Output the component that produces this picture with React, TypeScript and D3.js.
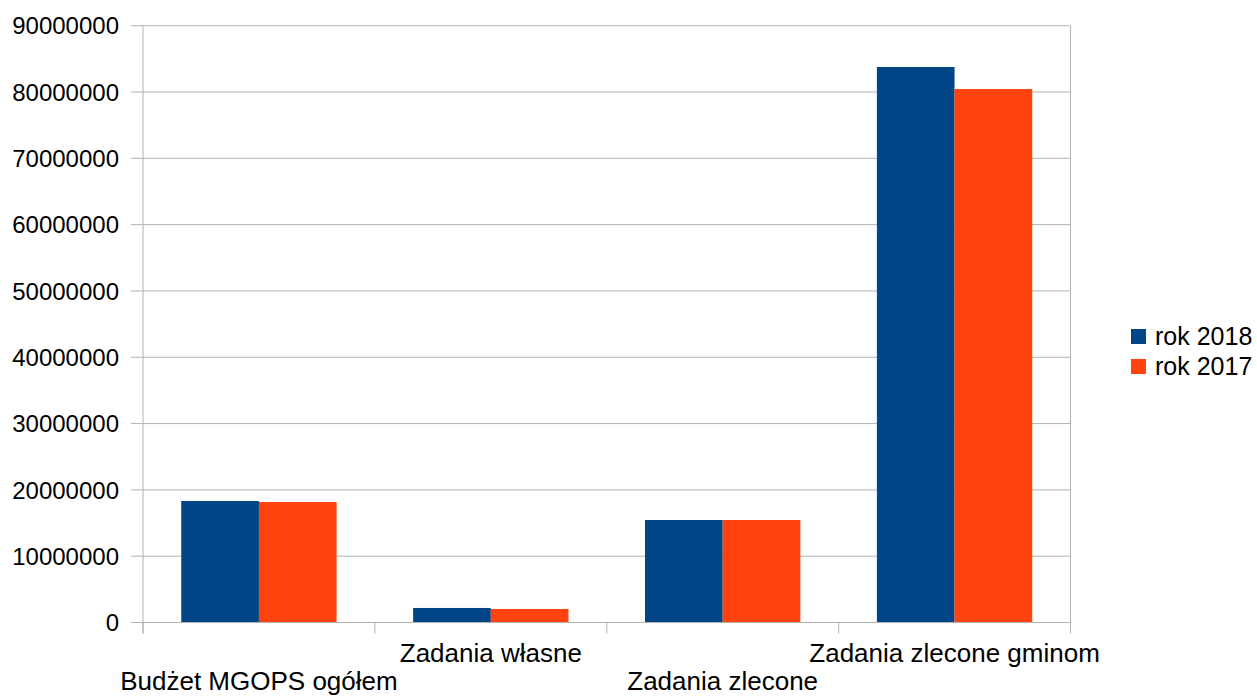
import React from "react";
import * as d3 from "d3";

const categories = ["Budżet MGOPS ogółem", "Zadania własne", "Zadania zlecone", "Zadania zlecone gminom"];
const seriesNames = ["rok 2018", "rok 2017"];
const values2018 = [18320000, 2190000, 15460000, 83770000];
const values2017 = [18170000, 2040000, 15460000, 80450000];
const yTicks = [0, 10000000, 20000000, 30000000, 40000000, 50000000, 60000000, 70000000, 80000000, 90000000];
const colors = ["#004586", "#ff420e"];

const W = 1257;
const H = 696;
const left = 143;
const right = 1070.5;
const top = 25.7;
const bottom = 622.5;

export default function App() {
  const x = d3.scaleBand<string>().domain(categories).range([left, right]).paddingInner(0.33).paddingOuter(0.165);
  const x0 = d3.scaleBand<string>().domain(categories).range([left, right]);
  const xs = d3.scaleBand<string>().domain(seriesNames).range([0, x.bandwidth()]);
  const y = d3.scaleLinear().domain([0, 90000000]).range([bottom, top]);
  const series = [values2018, values2017];
  const font = "'Liberation Sans', Arial, sans-serif";
  return (
    <svg width={W} height={H} style={{ position: "absolute", left: 0, top: 0, background: "#fff" }} fontFamily={font}>
      {yTicks.map((t) => (
        <g key={t}>
          <line x1={left - 12} x2={right} y1={y(t)} y2={y(t)} stroke="#b3b3b3" strokeWidth={1} />
          <text x={119} y={y(t)} dy="0.36em" textAnchor="end" fontSize={24} fill="#000">{t}</text>
        </g>
      ))}
      <line x1={left} x2={left} y1={top} y2={bottom + 11} stroke="#b3b3b3" />
      <line x1={right} x2={right} y1={top} y2={bottom + 11} stroke="#b3b3b3" />
      {categories.map((c) => (
        <line key={"t" + c} x1={x0(c) as number} x2={x0(c) as number} y1={bottom} y2={bottom + 11} stroke="#b3b3b3" />
      ))}
      {categories.map((c, i) =>
        series.map((vals, s) => (
          <rect
            key={c + s}
            x={(x(c) as number) + (xs(seriesNames[s]) as number)}
            y={y(vals[i])}
            width={xs.bandwidth()}
            height={y(0) - y(vals[i])}
            fill={colors[s]}
          />
        ))
      )}
      <line x1={left} x2={right} y1={bottom} y2={bottom} stroke="#b3b3b3" />
      {categories.map((c, i) => (
        <text
          key={"l" + c}
          x={(x0(c) as number) + x0.bandwidth() / 2}
          y={i % 2 === 0 ? 689.5 : 662}
          textAnchor="middle"
          fontSize={26}
          fill="#000"
        >
          {c}
        </text>
      ))}
      {seriesNames.map((n, s) => (
        <g key={n}>
          <rect x={1131} y={329 + s * 30} width={15} height={15} fill={colors[s]} />
          <text x={1155} y={345 + s * 30} fontSize={25} fill="#000">{n}</text>
        </g>
      ))}
    </svg>
  );
}
